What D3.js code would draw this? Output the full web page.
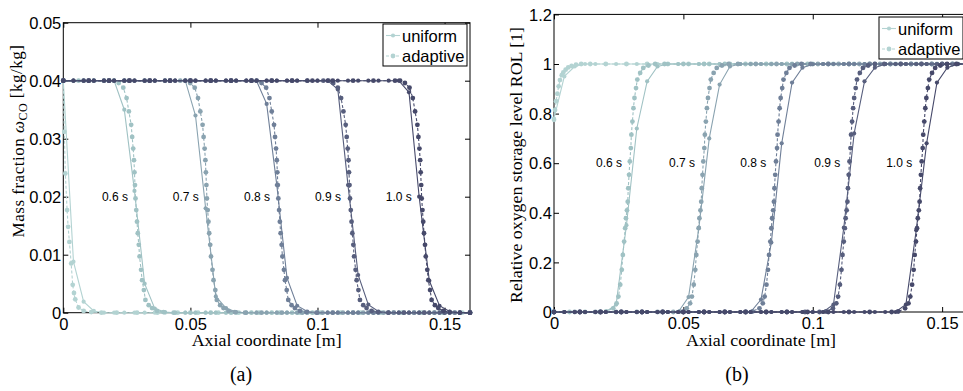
<!DOCTYPE html>
<html>
<head>
<meta charset="utf-8">
<script src="https://cdn.jsdelivr.net/npm/d3@7"></script>
<style>
  body { margin: 0; background: #fff; }
  svg { display: block; }
  .tick text { font-family: "Liberation Sans", Arial, sans-serif; font-size: 16.5px; fill: #000; }
  .tick line { stroke: #000; }
  .serif { font-family: "Liberation Serif", "Times New Roman", serif; fill: #000; }
  .sans { font-family: "Liberation Sans", Arial, sans-serif; fill: #000; }
</style>
</head>
<body>
<svg id="chart" width="963" height="391"></svg>
<script>
// ---- data ----
const times = ["0.5 s", "0.6 s", "0.7 s", "0.8 s", "0.9 s", "1.0 s"];
const timeLabels = ["0.6 s", "0.7 s", "0.8 s", "0.9 s", "1.0 s"];

const xTicks = [0, 0.05, 0.1, 0.15];
const xTickLabels = ["0", "0.05", "0.1", "0.15"];
const coTicks = [0, 0.01, 0.02, 0.03, 0.04, 0.05];
const coTickLabels = ["0", "0.01", "0.02", "0.03", "0.04", "0.05"];
const rolTicks = [0, 0.2, 0.4, 0.6, 0.8, 1, 1.2];
const rolTickLabels = ["0", "0.2", "0.4", "0.6", "0.8", "1", "1.2"];

// uniform grid (41 nodes)
const gridX = [0, 0.004, 0.008, 0.012, 0.016, 0.02, 0.024, 0.028, 0.032, 0.036,
  0.04, 0.044, 0.048, 0.052, 0.056, 0.06, 0.064, 0.068, 0.072, 0.076,
  0.08, 0.084, 0.088, 0.092, 0.096, 0.1, 0.104, 0.108, 0.112, 0.116,
  0.12, 0.124, 0.128, 0.132, 0.136, 0.14, 0.144, 0.148, 0.152, 0.156, 0.16];

// CO mass fraction, uniform grid, one row per time
const coUniform = [
  [0.04, 0.0088, 0.0019, 0.0003, 0, 0, 0, 0, 0, 0,
   0, 0, 0, 0, 0, 0, 0, 0, 0, 0,
   0, 0, 0, 0, 0, 0, 0, 0, 0, 0,
   0, 0, 0, 0, 0, 0, 0, 0, 0, 0, 0],
  [0.04, 0.04, 0.04, 0.04, 0.04, 0.04, 0.035, 0.021, 0.005, 0.0007,
   0.0001, 0, 0, 0, 0, 0, 0, 0, 0, 0,
   0, 0, 0, 0, 0, 0, 0, 0, 0, 0,
   0, 0, 0, 0, 0, 0, 0, 0, 0, 0, 0],
  [0.04, 0.04, 0.04, 0.04, 0.04, 0.04, 0.04, 0.04, 0.04, 0.04,
   0.04, 0.04, 0.04, 0.034, 0.018, 0.0028, 0.0008, 0.0001, 0, 0,
   0, 0, 0, 0, 0, 0, 0, 0, 0, 0,
   0, 0, 0, 0, 0, 0, 0, 0, 0, 0, 0],
  [0.04, 0.04, 0.04, 0.04, 0.04, 0.04, 0.04, 0.04, 0.04, 0.04,
   0.04, 0.04, 0.04, 0.04, 0.04, 0.04, 0.04, 0.04, 0.04, 0.04,
   0.036, 0.022, 0.006, 0.0012, 0.0002, 0, 0, 0, 0, 0,
   0, 0, 0, 0, 0, 0, 0, 0, 0, 0, 0],
  [0.04, 0.04, 0.04, 0.04, 0.04, 0.04, 0.04, 0.04, 0.04, 0.04,
   0.04, 0.04, 0.04, 0.04, 0.04, 0.04, 0.04, 0.04, 0.04, 0.04,
   0.04, 0.04, 0.04, 0.04, 0.04, 0.04, 0.04, 0.0385, 0.022, 0.0065,
   0.0014, 0.0002, 0, 0, 0, 0, 0, 0, 0, 0, 0],
  [0.04, 0.04, 0.04, 0.04, 0.04, 0.04, 0.04, 0.04, 0.04, 0.04,
   0.04, 0.04, 0.04, 0.04, 0.04, 0.04, 0.04, 0.04, 0.04, 0.04,
   0.04, 0.04, 0.04, 0.04, 0.04, 0.04, 0.04, 0.04, 0.04, 0.04,
   0.04, 0.04, 0.04, 0.04, 0.038, 0.02, 0.0055, 0.0012, 0.0002, 0, 0]
];

// CO mass fraction, adaptive grid [x, value]
const coAdaptive = [
  [[0,0.04],[0.0004,0.0312],[0.0008,0.024],[0.0015,0.0177],[0.0019,0.0148],[0.0024,0.0122],[0.0031,0.0085],[0.0037,0.0048],[0.0042,0.0034],[0.0047,0.0023],[0.006,0.0009],[0.008,0.0003],[0.011,0.0001],[0.015,0],[0.021,0],[0.029,0],[0.037,0],[0.045,0],[0.053,0],[0.061,0],[0.069,0],[0.077,0],[0.085,0],[0.093,0],[0.101,0],[0.109,0],[0.117,0],[0.125,0],[0.133,0],[0.141,0],[0.149,0],[0.157,0],[0.16,0]],
  [[0,0.04],[0.006,0.04],[0.012,0.04],[0.0179,0.04],[0.0199,0.04],[0.0218,0.0396],[0.0236,0.0388],[0.0249,0.037],[0.0258,0.0347],[0.0267,0.0324],[0.0271,0.0303],[0.0275,0.0283],[0.0278,0.0263],[0.028,0.0242],[0.0282,0.022],[0.0284,0.0197],[0.0287,0.0177],[0.029,0.0157],[0.0293,0.0137],[0.0297,0.0117],[0.03,0.0097],[0.0306,0.0074],[0.031,0.0056],[0.0317,0.0039],[0.0323,0.0022],[0.0336,0.0013],[0.0349,0.0008],[0.0369,0.0003],[0.0394,0.0001],[0.0434,0],[0.05,0],[0.058,0],[0.066,0],[0.074,0],[0.082,0],[0.09,0],[0.098,0],[0.106,0],[0.114,0],[0.122,0],[0.13,0],[0.138,0],[0.146,0],[0.154,0],[0.16,0]],
  [[0,0.04],[0.008,0.04],[0.016,0.04],[0.024,0.04],[0.032,0.04],[0.04,0.04],[0.046,0.04],[0.048,0.04],[0.0499,0.0396],[0.0517,0.0388],[0.053,0.037],[0.0539,0.0347],[0.0548,0.0324],[0.0552,0.0303],[0.0556,0.0283],[0.0559,0.0263],[0.0561,0.0242],[0.0563,0.022],[0.0565,0.0197],[0.0568,0.0177],[0.0571,0.0157],[0.0574,0.0137],[0.0578,0.0117],[0.0581,0.0097],[0.0587,0.0074],[0.0591,0.0056],[0.0598,0.0039],[0.0604,0.0022],[0.0617,0.0013],[0.063,0.0008],[0.065,0.0003],[0.0675,0.0001],[0.0715,0],[0.078,0],[0.086,0],[0.094,0],[0.102,0],[0.11,0],[0.118,0],[0.126,0],[0.134,0],[0.142,0],[0.15,0],[0.16,0]],
  [[0,0.04],[0.01,0.04],[0.018,0.04],[0.026,0.04],[0.034,0.04],[0.042,0.04],[0.05,0.04],[0.058,0.04],[0.066,0.04],[0.0741,0.04],[0.0761,0.04],[0.078,0.0396],[0.0798,0.0388],[0.0811,0.037],[0.082,0.0347],[0.0829,0.0324],[0.0833,0.0303],[0.0837,0.0283],[0.084,0.0263],[0.0842,0.0242],[0.0844,0.022],[0.0846,0.0197],[0.0849,0.0177],[0.0852,0.0157],[0.0855,0.0137],[0.0859,0.0117],[0.0862,0.0097],[0.0868,0.0074],[0.0872,0.0056],[0.0879,0.0039],[0.0885,0.0022],[0.0898,0.0013],[0.0911,0.0008],[0.0931,0.0003],[0.0956,0.0001],[0.0996,0],[0.106,0],[0.114,0],[0.122,0],[0.13,0],[0.138,0],[0.146,0],[0.154,0],[0.16,0]],
  [[0,0.04],[0.01,0.04],[0.018,0.04],[0.026,0.04],[0.034,0.04],[0.042,0.04],[0.05,0.04],[0.058,0.04],[0.066,0.04],[0.074,0.04],[0.082,0.04],[0.09,0.04],[0.096,0.04],[0.1023,0.04],[0.1043,0.04],[0.1062,0.0396],[0.108,0.0388],[0.1093,0.037],[0.1102,0.0347],[0.1111,0.0324],[0.1115,0.0303],[0.1119,0.0283],[0.1122,0.0263],[0.1124,0.0242],[0.1126,0.022],[0.1128,0.0197],[0.1131,0.0177],[0.1134,0.0157],[0.1137,0.0137],[0.1141,0.0117],[0.1144,0.0097],[0.115,0.0074],[0.1154,0.0056],[0.1161,0.0039],[0.1167,0.0022],[0.118,0.0013],[0.1193,0.0008],[0.1213,0.0003],[0.1238,0.0001],[0.1278,0],[0.134,0],[0.142,0],[0.15,0],[0.16,0]],
  [[0,0.04],[0.01,0.04],[0.018,0.04],[0.026,0.04],[0.034,0.04],[0.042,0.04],[0.05,0.04],[0.058,0.04],[0.066,0.04],[0.074,0.04],[0.082,0.04],[0.09,0.04],[0.098,0.04],[0.106,0.04],[0.114,0.04],[0.122,0.04],[0.1305,0.04],[0.1325,0.04],[0.1344,0.0396],[0.1362,0.0388],[0.1375,0.037],[0.1384,0.0347],[0.1393,0.0324],[0.1397,0.0303],[0.1401,0.0283],[0.1404,0.0263],[0.1406,0.0242],[0.1408,0.022],[0.141,0.0197],[0.1413,0.0177],[0.1416,0.0157],[0.1419,0.0137],[0.1423,0.0117],[0.1426,0.0097],[0.1432,0.0074],[0.1436,0.0056],[0.1443,0.0039],[0.1449,0.0022],[0.1462,0.0013],[0.1475,0.0008],[0.1495,0.0003],[0.152,0.0001],[0.156,0],[0.16,0]]
];

// relative oxygen storage level, uniform grid
const rolUniform = [
  [0.78, 0.95, 0.99, 1, 1, 1, 1, 1, 1, 1,
   1, 1, 1, 1, 1, 1, 1, 1, 1, 1,
   1, 1, 1, 1, 1, 1, 1, 1, 1, 1,
   1, 1, 1, 1, 1, 1, 1, 1, 1, 1, 1],
  [0, 0, 0, 0, 0, 0, 0.03, 0.35, 0.74, 0.93,
   0.99, 1, 1, 1, 1, 1, 1, 1, 1, 1,
   1, 1, 1, 1, 1, 1, 1, 1, 1, 1,
   1, 1, 1, 1, 1, 1, 1, 1, 1, 1, 1],
  [0, 0, 0, 0, 0, 0, 0, 0, 0, 0,
   0, 0, 0, 0.06, 0.34, 0.7, 0.917, 0.99, 1, 1,
   1, 1, 1, 1, 1, 1, 1, 1, 1, 1,
   1, 1, 1, 1, 1, 1, 1, 1, 1, 1, 1],
  [0, 0, 0, 0, 0, 0, 0, 0, 0, 0,
   0, 0, 0, 0, 0, 0, 0, 0, 0, 0,
   0.05, 0.28, 0.68, 0.925, 0.985, 0.999, 1, 1, 1, 1,
   1, 1, 1, 1, 1, 1, 1, 1, 1, 1, 1],
  [0, 0, 0, 0, 0, 0, 0, 0, 0, 0,
   0, 0, 0, 0, 0, 0, 0, 0, 0, 0,
   0, 0, 0, 0, 0, 0, 0, 0.03, 0.34, 0.72,
   0.93, 0.985, 1, 1, 1, 1, 1, 1, 1, 1, 1],
  [0, 0, 0, 0, 0, 0, 0, 0, 0, 0,
   0, 0, 0, 0, 0, 0, 0, 0, 0, 0,
   0, 0, 0, 0, 0, 0, 0, 0, 0, 0,
   0, 0, 0, 0, 0.03, 0.33, 0.68, 0.925, 0.985, 1, 1]
];

// relative oxygen storage level, adaptive grid [x, value]
const rolAdaptive = [
  [[0,0.775],[0.0004,0.815],[0.0008,0.85],[0.0013,0.88],[0.0018,0.91],[0.0023,0.935],[0.003,0.955],[0.0036,0.966],[0.0045,0.977],[0.0055,0.986],[0.0068,0.992],[0.0085,0.997],[0.0105,1],[0.014,1],[0.02,1],[0.028,1],[0.036,1],[0.044,1],[0.052,1],[0.06,1],[0.068,1],[0.076,1],[0.084,1],[0.092,1],[0.1,1],[0.108,1],[0.116,1],[0.124,1],[0.132,1],[0.14,1],[0.148,1],[0.156,1],[0.16,1]],
  [[0,0],[0.006,0],[0.012,0],[0.0177,0],[0.0202,0.002],[0.0229,0.015],[0.0242,0.035],[0.0249,0.062],[0.0256,0.11],[0.0262,0.17],[0.0266,0.23],[0.0271,0.284],[0.0275,0.338],[0.0278,0.378],[0.0282,0.41],[0.0285,0.445],[0.0287,0.499],[0.029,0.553],[0.0293,0.607],[0.0297,0.661],[0.0299,0.715],[0.0303,0.768],[0.0307,0.822],[0.0311,0.863],[0.0317,0.903],[0.0322,0.937],[0.0333,0.964],[0.0345,0.984],[0.0365,0.994],[0.0391,1],[0.0427,1],[0.05,1],[0.058,1],[0.066,1],[0.074,1],[0.082,1],[0.09,1],[0.098,1],[0.106,1],[0.114,1],[0.122,1],[0.13,1],[0.138,1],[0.146,1],[0.154,1],[0.16,1]],
  [[0,0],[0.008,0],[0.016,0],[0.024,0],[0.032,0],[0.04,0],[0.0461,0],[0.0486,0.002],[0.0513,0.015],[0.0526,0.035],[0.0533,0.062],[0.054,0.11],[0.0546,0.17],[0.055,0.23],[0.0555,0.284],[0.0559,0.338],[0.0562,0.378],[0.0566,0.41],[0.0569,0.445],[0.0571,0.499],[0.0574,0.553],[0.0577,0.607],[0.0581,0.661],[0.0583,0.715],[0.0587,0.768],[0.0591,0.822],[0.0595,0.863],[0.0601,0.903],[0.0606,0.937],[0.0617,0.964],[0.0629,0.984],[0.0649,0.994],[0.0675,1],[0.0711,1],[0.078,1],[0.086,1],[0.094,1],[0.102,1],[0.11,1],[0.118,1],[0.126,1],[0.134,1],[0.142,1],[0.15,1],[0.16,1]],
  [[0,0],[0.01,0],[0.018,0],[0.026,0],[0.034,0],[0.042,0],[0.05,0],[0.058,0],[0.066,0],[0.0742,0],[0.0767,0.002],[0.0794,0.015],[0.0807,0.035],[0.0814,0.062],[0.0821,0.11],[0.0827,0.17],[0.0831,0.23],[0.0836,0.284],[0.084,0.338],[0.0843,0.378],[0.0847,0.41],[0.085,0.445],[0.0852,0.499],[0.0855,0.553],[0.0858,0.607],[0.0862,0.661],[0.0864,0.715],[0.0868,0.768],[0.0872,0.822],[0.0876,0.863],[0.0882,0.903],[0.0887,0.937],[0.0898,0.964],[0.091,0.984],[0.093,0.994],[0.0956,1],[0.0992,1],[0.106,1],[0.114,1],[0.122,1],[0.13,1],[0.138,1],[0.146,1],[0.154,1],[0.16,1]],
  [[0,0],[0.01,0],[0.018,0],[0.026,0],[0.034,0],[0.042,0],[0.05,0],[0.058,0],[0.066,0],[0.074,0],[0.082,0],[0.09,0],[0.097,0],[0.1026,0],[0.1051,0.002],[0.1078,0.015],[0.1091,0.035],[0.1098,0.062],[0.1105,0.11],[0.1111,0.17],[0.1115,0.23],[0.112,0.284],[0.1124,0.338],[0.1127,0.378],[0.1131,0.41],[0.1134,0.445],[0.1136,0.499],[0.1139,0.553],[0.1142,0.607],[0.1146,0.661],[0.1148,0.715],[0.1152,0.768],[0.1156,0.822],[0.116,0.863],[0.1166,0.903],[0.1171,0.937],[0.1182,0.964],[0.1194,0.984],[0.1214,0.994],[0.124,1],[0.1276,1],[0.134,1],[0.142,1],[0.15,1],[0.16,1]],
  [[0,0],[0.01,0],[0.018,0],[0.026,0],[0.034,0],[0.042,0],[0.05,0],[0.058,0],[0.066,0],[0.074,0],[0.082,0],[0.09,0],[0.098,0],[0.106,0],[0.114,0],[0.122,0],[0.1305,0],[0.133,0.002],[0.1357,0.015],[0.137,0.035],[0.1377,0.062],[0.1384,0.11],[0.139,0.17],[0.1394,0.23],[0.1399,0.284],[0.1403,0.338],[0.1406,0.378],[0.141,0.41],[0.1413,0.445],[0.1415,0.499],[0.1418,0.553],[0.1421,0.607],[0.1425,0.661],[0.1427,0.715],[0.1431,0.768],[0.1435,0.822],[0.1439,0.863],[0.1445,0.903],[0.145,0.937],[0.1461,0.964],[0.1473,0.984],[0.1493,0.994],[0.1519,1],[0.1555,1],[0.16,1]]
];

// where the time annotations sit (data units)
const coLabelX = [0.0203, 0.0482, 0.0762, 0.1041, 0.132];
const rolLabelX = [0.0213, 0.0495, 0.077, 0.1056, 0.1334];

// ---- styling ----
const timeColors = ["#b3d3d2", "#a0c2c4", "#8aa3b0", "#6f7f98", "#575e7d", "#46496a"];

const svg = d3.select("#chart");

function drawPanel(p) {
  const x = d3.scaleLinear().domain([0, 0.16]).range(p.xRange);
  const y = d3.scaleLinear().domain(p.yDomain).range(p.yRange);
  const [x0, x1] = p.xRange;
  const [yb, yt] = p.yRange;
  const g = svg.append("g");

  // axes (ticks point inward, on all four sides)
  const bottom = g.append("g").attr("transform", `translate(0,${yb})`)
    .call(d3.axisBottom(x).tickValues(xTicks).tickFormat((d, i) => xTickLabels[i])
      .tickSizeInner(-5).tickSizeOuter(0).tickPadding(5.5));
  const top = g.append("g").attr("transform", `translate(0,${yt})`)
    .call(d3.axisTop(x).tickValues(xTicks).tickFormat("").tickSizeInner(-5).tickSizeOuter(0));
  const left = g.append("g").attr("transform", `translate(${x0},0)`)
    .call(d3.axisLeft(y).tickValues(p.yTicks).tickFormat((d, i) => p.yTickLabels[i])
      .tickSizeInner(-5).tickSizeOuter(0).tickPadding(2));
  const right = g.append("g").attr("transform", `translate(${x1},0)`)
    .call(d3.axisRight(y).tickValues(p.yTicks).tickFormat("").tickSizeInner(-5).tickSizeOuter(0));
  [bottom, top, left, right].forEach(a => a.select(".domain").remove());
  left.selectAll("text").attr("dy", "0.35em");

  g.append("rect")
    .attr("x", x0).attr("y", yt)
    .attr("width", x1 - x0).attr("height", yb - yt)
    .attr("fill", "none").attr("stroke", "#000").attr("stroke-width", 1);

  const line = d3.line().x(d => x(d[0])).y(d => y(d[1]));

  times.forEach((t, i) => {
    const c = timeColors[i];
    const uni = gridX.map((gx, j) => [gx, p.uniform[i][j]]);
    const ada = p.adaptive[i];

    g.append("path").datum(uni).attr("d", line)
      .attr("fill", "none").attr("stroke", c).attr("stroke-width", 1.1);
    g.append("g").selectAll("circle").data(uni).join("circle")
      .attr("cx", d => x(d[0])).attr("cy", d => y(d[1]))
      .attr("r", 2.1).attr("fill", c);

    g.append("path").datum(ada).attr("d", line)
      .attr("fill", "none").attr("stroke", c).attr("stroke-width", 1.1)
      .attr("stroke-dasharray", "3,2");
    g.append("g").selectAll("circle").data(ada).join("circle")
      .attr("cx", d => x(d[0])).attr("cy", d => y(d[1]))
      .attr("r", 2.4).attr("fill", c);
  });

  // time annotations
  g.selectAll("text.tlabel").data(timeLabels).join("text")
    .attr("class", "tlabel sans")
    .attr("x", (d, i) => x(p.labelX[i]))
    .attr("y", y(p.labelY))
    .attr("dy", "0.35em")
    .attr("text-anchor", "middle")
    .style("font-size", "12px")
    .text(d => d);

  // legend
  const L = p.legend;
  const lg = g.append("g").attr("transform", `translate(${L.x},${L.y})`);
  lg.append("rect").attr("width", 84).attr("height", 42)
    .attr("fill", "#fff").attr("stroke", "#000").attr("stroke-width", 1);
  const entries = [
    { name: "uniform", dash: null, r: 2.1, ly: 11.5, ty: 18 },
    { name: "adaptive", dash: "3,2", r: 2.4, ly: 32, ty: 38 }
  ];
  entries.forEach(e => {
    lg.append("line").attr("x1", 3).attr("x2", 17).attr("y1", e.ly).attr("y2", e.ly)
      .attr("stroke", timeColors[0]).attr("stroke-width", 1.1)
      .attr("stroke-dasharray", e.dash);
    lg.append("circle").attr("cx", 10).attr("cy", e.ly).attr("r", e.r).attr("fill", timeColors[0]);
    lg.append("text").attr("class", "sans").attr("x", 19).attr("y", e.ty)
      .style("font-size", "16.5px").text(e.name);
  });

  // x label and panel caption
  g.append("text").attr("class", "serif")
    .attr("x", (x0 + x1) / 2).attr("y", 346)
    .attr("text-anchor", "middle").style("font-size", "17px")
    .attr("textLength", 150).attr("lengthAdjust", "spacingAndGlyphs")
    .text("Axial coordinate [m]");
  g.append("text").attr("class", "serif")
    .attr("x", p.captionX).attr("y", 381)
    .attr("text-anchor", "middle").style("font-size", "20px")
    .text(p.caption);

  return g;
}

// (a) CO mass fraction
const ga = drawPanel({
  xRange: [63.3, 470], yRange: [312.7, 22.7], yDomain: [0, 0.05],
  yTicks: coTicks, yTickLabels: coTickLabels,
  uniform: coUniform, adaptive: coAdaptive,
  labelX: coLabelX, labelY: 0.02,
  legend: { x: 383, y: 24 },
  captionX: 241, caption: "(a)"
});
const yla = ga.append("text").attr("class", "serif")
  .attr("transform", "translate(23.5,141) rotate(-90)")
  .attr("text-anchor", "middle").style("font-size", "17px")
  .style("letter-spacing", "0.5px");
yla.append("tspan").text("Mass fraction ");
yla.append("tspan").style("font-style", "italic").text("ω");
yla.append("tspan").attr("dy", "0.3em").style("font-size", "12px").text("CO");
yla.append("tspan").attr("dy", "-0.3em").text(" [kg/kg]");

// (b) relative oxygen storage level
const gb = drawPanel({
  xRange: [554, 968], yRange: [312, 14.4], yDomain: [0, 1.2],
  yTicks: rolTicks, yTickLabels: rolTickLabels,
  uniform: rolUniform, adaptive: rolAdaptive,
  labelX: rolLabelX, labelY: 0.6,
  legend: { x: 879, y: 17 },
  captionX: 737, caption: "(b)"
});
gb.append("text").attr("class", "serif")
  .attr("transform", "translate(522,165) rotate(-90)")
  .attr("text-anchor", "middle").style("font-size", "17px")
  .attr("textLength", 276).attr("lengthAdjust", "spacingAndGlyphs")
  .text("Relative oxygen storage level ROL [1]");
</script>
</body>
</html>
